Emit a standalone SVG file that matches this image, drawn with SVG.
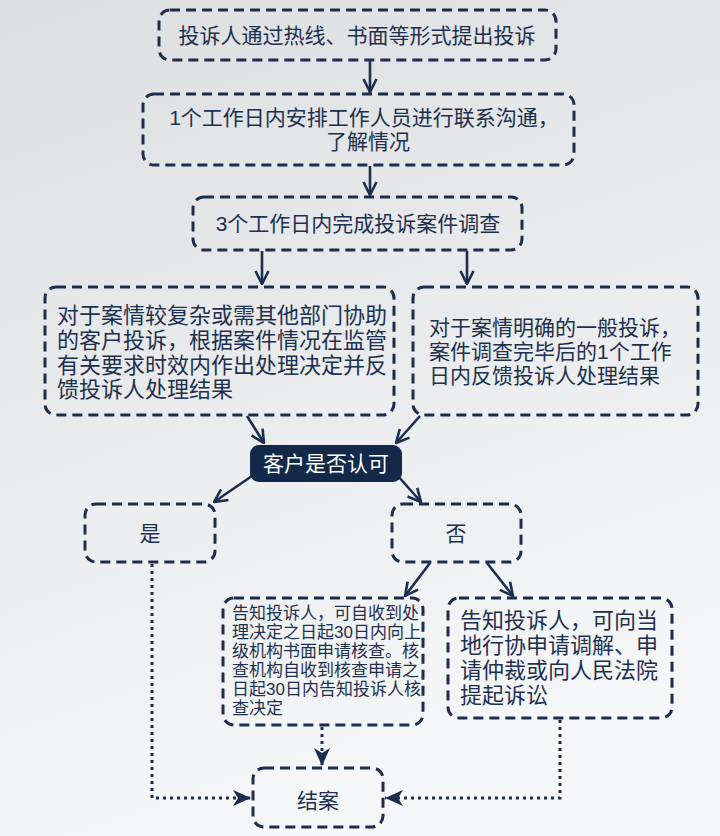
<svg xmlns="http://www.w3.org/2000/svg" width="720" height="836" viewBox="0 0 720 836">
<defs>
<linearGradient id="bg" x1="0" y1="0" x2="0.3" y2="1">
<stop offset="0" stop-color="#dcdee0"/>
<stop offset="1" stop-color="#f6f7f8"/>
</linearGradient>
<marker id="open" markerUnits="userSpaceOnUse" markerWidth="16" markerHeight="16" viewBox="0 0 16 16" refX="15" refY="8" orient="auto">
<path d="M2,1.5 L15,8 L2,14.5" fill="none" stroke="#1b2e4e" stroke-width="2.6" stroke-linejoin="miter"/>
</marker>
<marker id="tri" markerUnits="userSpaceOnUse" markerWidth="18" markerHeight="16" viewBox="0 0 18 16" refX="18" refY="8" orient="auto">
<path d="M0,0 L18,8 L0,16 L5,8 Z" fill="#1b2e4e"/>
</marker>
</defs>
<style>
.box{fill:none;stroke:#1b2e4e;stroke-width:3;stroke-dasharray:10 6;}
.t{font-family:"Liberation Sans","Noto Sans CJK SC",sans-serif;fill:#1e3050;font-size:21px;}
.c{text-anchor:middle;}
.s{font-size:17px;}
.l{font-size:22px;}
.w{fill:#ffffff;}
.solid{fill:none;stroke:#1b2e4e;stroke-width:2.6;marker-end:url(#open);}
.dot{fill:none;stroke:#1b2e4e;stroke-width:3;stroke-dasharray:3 4;marker-end:url(#tri);}
</style>
<rect x="0" y="0" width="720" height="836" fill="url(#bg)"/>

<g id="connectors">
<path class="solid" d="M370,60 L370,92"/>
<path class="solid" d="M370,166 L370,195"/>
<path class="solid" d="M262,251 L262,284"/>
<path class="solid" d="M467,251 L467,284"/>
<path class="solid" d="M247,416 L264,443"/>
<path class="solid" d="M420,416 L396,443"/>
<path class="solid" d="M252,476 L214,502"/>
<path class="solid" d="M398,476 L421,502"/>
<path class="solid" d="M430,563 L405,596"/>
<path class="solid" d="M487,563 L513,596"/>
<path class="dot" d="M152,564 L152,798 L251,798"/>
<path class="dot" d="M322,727 L322,766"/>
<path class="dot" d="M560,720 L560,798 L385,798"/>
</g>

<g id="n1">
<rect class="box" x="159" y="10" width="397" height="50" rx="11"/>
<text class="t c" x="357" y="43">投诉人通过热线、书面等形式提出投诉</text>
</g>
<g id="n2">
<rect class="box" x="143" y="94" width="431" height="71" rx="11"/>
<text class="t c" x="364" y="125">1个工作日内安排工作人员进行联系沟通，<tspan x="368" dy="24">了解情况</tspan></text>
</g>
<g id="n3">
<rect class="box" x="193" y="197" width="329" height="53" rx="11"/>
<text class="t c" x="358" y="231">3个工作日内完成投诉案件调查</text>
</g>
<g id="n4">
<rect class="box" x="45" y="287" width="349" height="128" rx="11"/>
<text class="t l" x="57" y="323">对于案情较复杂或需其他部门协助<tspan x="57" dy="24.8">的客户投诉，根据案件情况在监管</tspan><tspan x="57" dy="24.8">有关要求时效内作出处理决定并反</tspan><tspan x="57" dy="24.8">馈投诉人处理结果</tspan></text>
</g>
<g id="n5">
<rect class="box" x="413" y="287" width="285" height="128" rx="11"/>
<text class="t" x="429" y="335">对于案情明确的一般投诉，<tspan x="429" dy="24">案件调查完毕后的1个工作</tspan><tspan x="429" dy="24">日内反馈投诉人处理结果</tspan></text>
</g>
<g id="n6">
<rect x="250" y="445" width="152" height="37" rx="9" fill="#12294a"/>
<text class="t c w" x="326" y="471">客户是否认可</text>
</g>
<g id="n7">
<rect class="box" x="85" y="504" width="130" height="58" rx="11"/>
<text class="t c" x="150" y="541">是</text>
</g>
<g id="n8">
<rect class="box" x="392" y="504" width="129" height="58" rx="11"/>
<text class="t c" x="456" y="541">否</text>
</g>
<g id="n9">
<rect class="box" x="223" y="598" width="200" height="127" rx="11"/>
<text class="t s" x="232" y="618.5">告知投诉人，可自收到处<tspan x="232" dy="19">理决定之日起30日内向上</tspan><tspan x="232" dy="19">级机构书面申请核查。核</tspan><tspan x="232" dy="19">查机构自收到核查申请之</tspan><tspan x="232" dy="19">日起30日内告知投诉人核</tspan><tspan x="232" dy="19">查决定</tspan></text>
</g>
<g id="n10">
<rect class="box" x="448" y="598" width="224" height="120" rx="11"/>
<text class="t l" x="460" y="628">告知投诉人，可向当<tspan x="460" dy="25">地行协申请调解、申</tspan><tspan x="460" dy="25">请仲裁或向人民法院</tspan><tspan x="460" dy="25">提起诉讼</tspan></text>
</g>
<g id="n11">
<rect class="box" x="253" y="768" width="130" height="59" rx="11"/>
<text class="t c" x="318" y="808">结案</text>
</g>
</svg>
